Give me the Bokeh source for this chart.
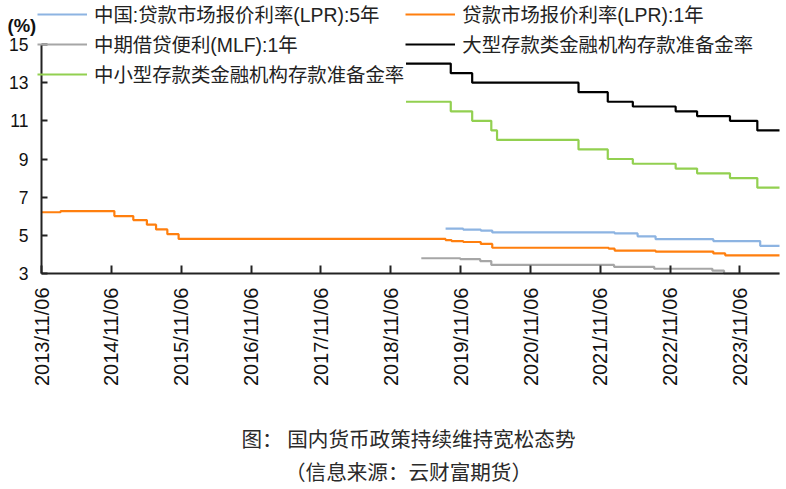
import pandas as pd
from math import pi
from bokeh.plotting import figure
from bokeh.models import Range1d, FixedTicker, DatetimeTickFormatter, Legend, LegendItem, Label
from bokeh.embed import file_html
from bokeh.resources import INLINE

# ---------------- data ----------------
lpr5_dates = ["2019-08-20", "2019-11-20", "2020-02-20", "2020-04-20", "2022-01-20",
              "2022-05-20", "2022-08-22", "2023-06-20", "2024-02-20", "2024-05-31"]
lpr5_vals = [5.35, 5.30, 5.25, 5.15, 5.10, 4.95, 4.80, 4.70, 4.45, 4.45]

lpr1_dates = ["2013-11-06", "2014-02-14", "2014-11-22", "2015-03-01", "2015-05-11",
              "2015-06-28", "2015-08-26", "2015-10-24", "2019-08-20", "2019-09-20",
              "2019-11-20", "2020-02-20", "2020-04-20", "2021-12-20", "2022-01-20",
              "2022-08-22", "2023-06-20", "2023-08-21", "2024-05-31"]
lpr1_vals = [6.21, 6.27, 6.01, 5.80, 5.56, 5.31, 5.06, 4.81, 4.75, 4.70,
             4.65, 4.55, 4.35, 4.30, 4.20, 4.15, 4.05, 3.95, 3.95]

mlf_dates = ["2019-04-15", "2019-11-05", "2020-02-17", "2020-04-15", "2022-01-17",
             "2022-08-15", "2023-06-15", "2023-08-15", "2024-05-31"]
mlf_vals = [3.80, 3.75, 3.65, 3.45, 3.35, 3.25, 3.15, 3.00, 3.00]

rrr_large_dates = ["2019-01-25", "2019-09-16", "2020-01-06", "2021-07-15", "2021-12-15",
                   "2022-04-25", "2022-12-05", "2023-03-27", "2023-09-15", "2024-02-05",
                   "2024-05-31"]
rrr_large_vals = [14.0, 13.5, 13.0, 12.5, 12.0, 11.75, 11.5, 11.25, 11.0, 10.5, 10.5]

rrr_small_dates = ["2019-01-25", "2019-09-16", "2020-01-06", "2020-04-15", "2020-05-15",
                   "2021-07-15", "2021-12-15", "2022-04-25", "2022-12-05", "2023-03-27",
                   "2023-09-15", "2024-02-05", "2024-05-31"]
rrr_small_vals = [12.0, 11.5, 11.0, 10.5, 10.0, 9.5, 9.0, 8.75, 8.5, 8.25, 8.0, 7.5, 7.5]

series_names = ["中国:贷款市场报价利率(LPR):5年", "贷款市场报价利率(LPR):1年",
                "中期借贷便利(MLF):1年", "大型存款类金融机构存款准备金率",
                "中小型存款类金融机构存款准备金率"]
series_colors = ["#8DB4E2", "#FF7F0E", "#A6A6A6", "#000000", "#92D050"]

x_tick_dates = ["2013-11-06", "2014-11-06", "2015-11-06", "2016-11-06", "2017-11-06",
                "2018-11-06", "2019-11-06", "2020-11-06", "2021-11-06", "2022-11-06",
                "2023-11-06"]
x_axis_end = "2024-06-01"
y_ticks = [3, 5, 7, 9, 11, 13, 15]

caption_1 = "图： 国内货币政策持续维持宽松态势"
caption_2 = "（信息来源：云财富期货）"
unit_text = "(%)"

# ---------------- layout constants ----------------
W, H = 786, 489
AXIS_X = 41          # pixel of the y axis (first x tick)
PX_PER_YEAR = 69.85
Y_TOP_PX, Y_BOT_PX = 44, 273   # pixel rows of 15 and 3
LAT = "Liberation Sans"
CJK = "Liberation Sans, Noto Sans CJK SC"
MS_YEAR = 365.2425 * 86400000.0

def ms(d):
    return pd.Timestamp(d).value // 10**6

t0 = ms(x_tick_dates[0])
x_start = t0 - AXIS_X / PX_PER_YEAR * MS_YEAR
x_end = t0 + (W - AXIS_X) / PX_PER_YEAR * MS_YEAR
px_per_unit = (Y_BOT_PX - Y_TOP_PX) / (y_ticks[-1] - y_ticks[0])
y_end = y_ticks[-1] + Y_TOP_PX / px_per_unit
y_start = y_ticks[0] - (H - Y_BOT_PX) / px_per_unit

p = figure(width=W, height=H, x_axis_type="datetime",
           output_backend="svg", toolbar_location=None,
           x_range=Range1d(x_start, x_end), y_range=Range1d(y_start, y_end),
           min_border=0, min_border_left=0, min_border_right=0,
           min_border_top=0, min_border_bottom=0)
p.outline_line_color = None
p.xgrid.visible = False
p.ygrid.visible = False
p.background_fill_color = "white"
p.border_fill_color = "white"

all_series = [(lpr5_dates, lpr5_vals), (lpr1_dates, lpr1_vals), (mlf_dates, mlf_vals),
              (rrr_large_dates, rrr_large_vals), (rrr_small_dates, rrr_small_vals)]
renderers = []
for (d, v), c in zip(all_series, series_colors):
    r = p.step(pd.to_datetime(d), v, mode="after", line_color=c, line_width=2.2)
    renderers.append(r)

# y axis (fixed inside the frame at the first x tick)
yax = p.yaxis[0]
yax.fixed_location = t0
yax.ticker = FixedTicker(ticks=y_ticks)
yax.bounds = (y_ticks[0], y_ticks[-1])
yax.major_tick_in = 6
yax.major_tick_out = 0
yax.minor_tick_line_color = None
yax.axis_line_width = 2
yax.axis_line_color = "#222222"
yax.major_tick_line_color = "#222222"
yax.major_tick_line_width = 2
yax.major_label_text_font = LAT
yax.major_label_text_font_size = "17.5px"
yax.major_label_text_color = "#111111"
yax.major_label_standoff = 13

# x axis (fixed inside the frame at y = 3)
xax = p.xaxis[0]
xax.fixed_location = y_ticks[0]
xax.ticker = FixedTicker(ticks=[ms(t) for t in x_tick_dates])
xax.bounds = (t0, ms(x_axis_end))
xax.formatter = DatetimeTickFormatter(days="%Y/%m/%d", months="%Y/%m/%d", years="%Y/%m/%d")
xax.major_label_orientation = pi / 2
xax.major_tick_in = 8
xax.major_tick_out = 0
xax.minor_tick_line_color = None
xax.axis_line_width = 2
xax.axis_line_color = "#222222"
xax.major_tick_line_color = "#222222"
xax.major_tick_line_width = 2
xax.major_label_text_font = LAT
xax.major_label_text_font_size = "20px"
xax.major_label_text_color = "#111111"
xax.major_label_standoff = 14

# legend
items = [LegendItem(label=n, renderers=[r]) for n, r in zip(series_names, renderers)]
legend = Legend(items=items, location=(37, H - 88), orientation="horizontal", ncols=2,
                label_text_font=CJK, label_text_font_size="19.4px",
                label_text_color="#222222",
                glyph_width=50, glyph_height=22, label_height=22, label_standoff=7,
                spacing=1, padding=0, margin=0,
                border_line_alpha=0, background_fill_alpha=0)
p.add_layout(legend, "center")

# unit label
p.add_layout(Label(x=7, y=H - 25, x_units="screen", y_units="screen", text=unit_text,
                   text_font=LAT, text_font_size="18.5px", text_font_style="bold",
                   text_color="#111111", text_baseline="middle", text_align="left"))

# captions
for txt, yc in [(caption_1, 437), (caption_2, 470)]:
    p.add_layout(Label(x=408, y=H - yc, x_units="screen", y_units="screen", text=txt,
                       text_font="Noto Sans CJK SC", text_font_size="20.6px",
                       text_color="#2a2a2a", text_align="center", text_baseline="middle"))

open("out.html", "w").write(file_html(p, INLINE))
